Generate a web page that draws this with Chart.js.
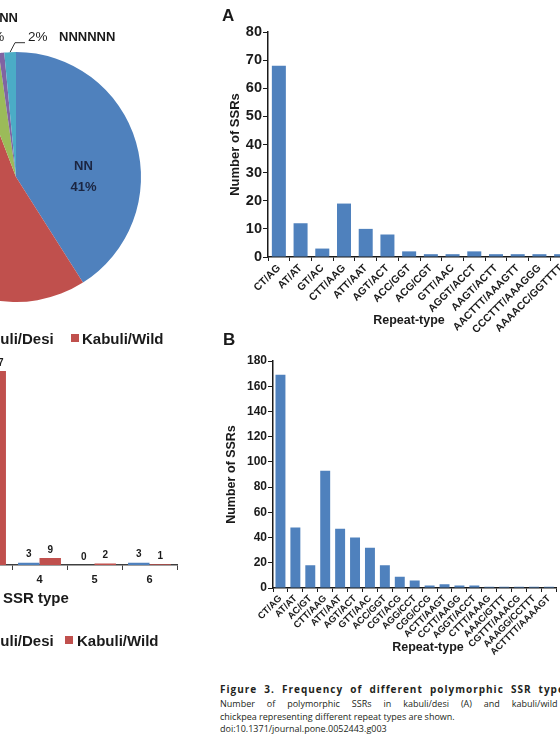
<!DOCTYPE html>
<html>
<head>
<meta charset="utf-8">
<script src="https://cdn.jsdelivr.net/npm/chart.js@4.4.1/dist/chart.umd.min.js"></script>
<style>
  body { margin: 0; width: 560px; height: 739px; overflow: hidden; position: relative; background: #fff; }
  canvas { position: absolute; }
  .t { position: absolute; white-space: nowrap; color: #1a1a1a; font-family: "Liberation Sans", Arial, sans-serif; font-weight: bold; }
  .cap { position: absolute; white-space: nowrap; color: #231f20; font-family: "Open Sans", sans-serif; }
  .sq { position: absolute; width: 8px; height: 8px; }
</style>
</head>
<body>
<canvas id="pie" width="400" height="354" style="left:-184px;top:0px"></canvas>
<canvas id="types" width="340" height="270" style="left:-160px;top:320px"></canvas>
<canvas id="chartA" width="352" height="312" style="left:220px;top:20px"></canvas>
<canvas id="chartB" width="338" height="310" style="left:220px;top:350px"></canvas>

<script>
// pie: share of repeat motif lengths
const pieNames = ['NN', 'NNN', 'NNNN', 'NNNNN', 'NNNNNN'];
const pieValues = [41, 53.2, 3.6, 0.7, 1.5];
const pieColors = ['#4F81BD', '#C0504D', '#9BBB59', '#8064A2', '#4BACC6'];

// grouped bars: polymorphic SSRs by SSR type
const typeLabels = ['1', '2', '3', '4', '5', '6'];
const desiByType = [0, 83, 41, 3, 0, 3];
const wildByType = [0, 235, 247, 9, 2, 1];

// A: kabuli/desi
const repeatsA = ['CT/AG', 'AT/AT', 'GT/AC', 'CTT/AAG', 'ATT/AAT', 'AGT/ACT', 'ACC/GGT', 'ACG/CGT',
  'GTT/AAC', 'AGGT/ACCT', 'AAGT/ACTT', 'AACTTT/AAAGTT', 'CCCTTT/AAAGGG', 'AAAACC/GGTTTT'];
const countsA = [68, 12, 3, 19, 10, 8, 2, 1, 1, 2, 1, 1, 1, 1];

// B: kabuli/wild
const repeatsB = ['CT/AG', 'AT/AT', 'AC/GT', 'CTT/AAG', 'ATT/AAT', 'AGT/ACT', 'GTT/AAC', 'ACC/GGT',
  'CGT/ACG', 'AGG/CCT', 'CGG/CCG', 'ACTT/AAGT', 'CCTT/AAGG', 'AGGT/ACCT', 'CTTT/AAAG', 'AAAC/GTTT',
  'CGTTT/AAACG', 'AAAGG/CCTTT', 'ACTTTT/AAAAGT'];
const countsB = [169, 48, 18, 93, 47, 40, 32, 18, 9, 6, 2, 3, 2, 2, 1, 1, 1, 1, 1];

const FONT = '"Liberation Sans", Arial, sans-serif';
const TEXT = '#1a1a1a';
const AXIS = '#1a1a1a';
const BLUE = '#4F81BD';
const RED = '#C0504D';

// ---- pie ----
const pieLabels = {
  id: 'pieLabels',
  afterDatasetsDraw(chart) {
    const ctx = chart.ctx;
    const arcs = chart.getDatasetMeta(0).data;
    const pct = i => Math.round(pieValues[i]) + '%';
    const cx = arcs[0].x, cy = arcs[0].y, r = arcs[0].outerRadius;
    ctx.save();
    ctx.textBaseline = 'middle';
    ctx.textAlign = 'center';

    // inside label of the first slice
    ctx.fillStyle = '#1b2541';
    ctx.font = 'bold 13px ' + FONT;
    ctx.fillText(pieNames[0], cx + r * 0.54, cy - 11);
    ctx.fillText(pct(0), cx + r * 0.54, cy + 10);

    // outside label of the 4th slice
    ctx.fillStyle = TEXT;
    ctx.fillText(pieNames[3], cx - 21.5, cy - 159);
    ctx.font = '13.5px ' + FONT;
    ctx.fillText(pct(3), cx - 21.5, cy - 139.5);

    // outside label of the last slice, with leader line
    const a = arcs[4];
    const mid = (a.startAngle + a.endAngle) / 2;
    ctx.strokeStyle = '#333';
    ctx.lineWidth = 1;
    ctx.beginPath();
    ctx.moveTo(cx + Math.cos(mid) * r, cy + Math.sin(mid) * r);
    ctx.lineTo(cx - 1, cy - 134.3);
    ctx.lineTo(cx + 9, cy - 134.3);
    ctx.stroke();
    ctx.textAlign = 'left';
    ctx.fillText(pct(4), cx + 12, cy - 139.5);
    ctx.font = 'bold 13px ' + FONT;
    ctx.fillText(pieNames[4], cx + 43, cy - 139.5);
    ctx.restore();
  }
};

new Chart(document.getElementById('pie'), {
  type: 'pie',
  data: { labels: pieNames, datasets: [{ data: pieValues, backgroundColor: pieColors, borderWidth: 0 }] },
  options: {
    responsive: false, animation: false, radius: 125,
    plugins: { legend: { display: false }, tooltip: { enabled: false } }
  },
  plugins: [pieLabels]
});

// ---- grouped bars by SSR type ----
const valueLabels = {
  id: 'valueLabels',
  afterDatasetsDraw(chart) {
    const ctx = chart.ctx;
    ctx.save();
    ctx.fillStyle = TEXT;
    ctx.font = 'bold 10px ' + FONT;
    ctx.textAlign = 'center';
    ctx.textBaseline = 'bottom';
    chart.data.datasets.forEach((ds, di) => {
      chart.getDatasetMeta(di).data.forEach((bar, i) => {
        ctx.fillText(String(ds.data[i]), bar.x, bar.y - 3);
      });
    });
    ctx.restore();
  }
};

new Chart(document.getElementById('types'), {
  type: 'bar',
  data: {
    labels: typeLabels,
    datasets: [
      { label: 'Kabuli/Desi', data: desiByType, backgroundColor: BLUE, categoryPercentage: 0.78, barPercentage: 1 },
      { label: 'Kabuli/Wild', data: wildByType, backgroundColor: RED, categoryPercentage: 0.78, barPercentage: 1 }
    ]
  },
  options: {
    responsive: false, animation: false,
    layout: { padding: { top: 9.5, left: 7, right: 3, bottom: 0 } },
    plugins: { legend: { display: false }, tooltip: { enabled: false } },
    scales: {
      x: {
        grid: { drawOnChartArea: false, tickLength: 5, color: '#404040' },
        border: { color: '#404040', width: 1.5 },
        ticks: { padding: 3, color: TEXT, font: { family: FONT, weight: 'bold', size: 11 } },
        afterFit: s => { s.height = 25; }
      },
      y: { display: false, min: 0, max: 300 }
    }
  },
  plugins: [valueLabels]
});

// ---- repeat-type charts ----
function repeatChart(id, labels, values, yMax, yStep, cfg) {
  return new Chart(document.getElementById(id), {
    type: 'bar',
    data: { labels: labels, datasets: [{ data: values, backgroundColor: BLUE, barPercentage: cfg.bar, categoryPercentage: 1 }] },
    options: {
      responsive: false, animation: false,
      layout: { padding: { top: cfg.top, right: 0, left: 0, bottom: 0 } },
      plugins: { legend: { display: false }, tooltip: { enabled: false } },
      scales: {
        x: {
          grid: { drawOnChartArea: false, tickLength: 4, color: AXIS, offset: true },
          border: { color: AXIS, width: 1.5 },
          ticks: { autoSkip: false, minRotation: 45, maxRotation: 45, padding: 1, color: TEXT,
            font: { family: FONT, weight: 'bold', size: cfg.xFont } },
          afterFit: s => { s.height = cfg.xHeight; }
        },
        y: {
          min: 0, max: yMax,
          ticks: { stepSize: yStep, padding: 1, color: TEXT, font: { family: FONT, weight: 'bold', size: cfg.yFont } },
          grid: { drawOnChartArea: false, tickLength: 5, color: AXIS },
          border: { color: AXIS, width: 1.5 },
          title: { display: true, text: 'Number of SSRs', color: TEXT,
            font: { family: FONT, weight: 'bold', size: cfg.titleFont }, padding: { top: cfg.titlePad, bottom: 0 } },
          afterFit: s => { s.width = cfg.yWidth; }
        }
      }
    }
  });
}

repeatChart('chartA', repeatsA, countsA, 80, 10,
  { bar: 0.645, top: 12, xHeight: 75, yWidth: 48, xFont: 10.5, yFont: 14.5, titleFont: 13, titlePad: 8 });
repeatChart('chartB', repeatsB, countsB, 180, 20,
  { bar: 0.667, top: 11, xHeight: 72, yWidth: 53, xFont: 9.5, yFont: 12, titleFont: 12.5, titlePad: 4.5 });

// ---- loose texts ----
function text(str, x, cy, size, opts) {
  opts = opts || {};
  const d = document.createElement('div');
  d.className = opts.cls || 't';
  d.textContent = str;
  d.style.fontSize = size + 'px';
  d.style.lineHeight = size + 'px';
  d.style.top = (cy - size / 2) + 'px';
  d.style.left = x + 'px';
  if (opts.center) d.style.transform = 'translateX(-50%)';
  if (opts.weight) d.style.fontWeight = opts.weight;
  if (opts.ls) d.style.letterSpacing = opts.ls + 'px';
  if (opts.ws) d.style.wordSpacing = opts.ws + 'px';
  document.body.appendChild(d);
  return d;
}
function square(color, x, y) {
  const d = document.createElement('div');
  d.className = 'sq';
  d.style.background = color;
  d.style.left = x + 'px';
  d.style.top = y + 'px';
  document.body.appendChild(d);
}

text('A', 222, 15, 17);
text('B', 223, 339, 17);
text('Repeat-type', 409, 320, 12.5, { center: true });
text('Repeat-type', 428, 647, 12.5, { center: true });

square(BLUE, -40, 334);
text('Kabuli/Desi', -28, 338, 15);
square(RED, 71, 334);
text('Kabuli/Wild', 82, 338, 15);

text('SSR type', 3, 597, 15);

square(BLUE, -46, 636);
text('Kabuli/Desi', -28, 640, 15);
square(RED, 65, 636);
text('Kabuli/Wild', 77, 640, 15);

text('Figure 3. Frequency of different polymorphic SSR types.', 220, 689, 10, { cls: 'cap', weight: 'bold', ls: 1.0, ws: 3.5 });
text('Number of polymorphic SSRs in kabuli/desi (A) and kabuli/wild (B)', 220, 703, 9, { cls: 'cap', ws: 9.6 });
text('chickpea representing different repeat types are shown.', 220, 716, 9, { cls: 'cap' });
text('doi:10.1371/journal.pone.0052443.g003', 220, 728, 9, { cls: 'cap' });
</script>
</body>
</html>
